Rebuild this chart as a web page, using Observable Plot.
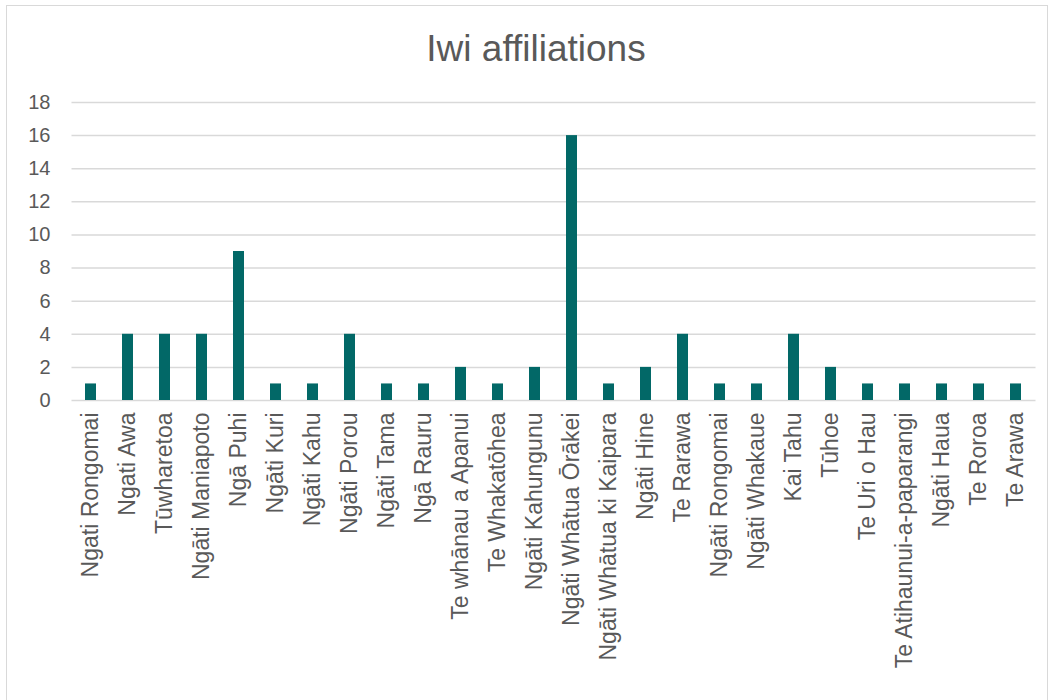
<!DOCTYPE html>
<html><head><meta charset="utf-8">
<script src="https://cdn.jsdelivr.net/npm/d3@7"></script>
<script src="https://cdn.jsdelivr.net/npm/@observablehq/plot@0.6"></script>
<style>
body{margin:0;background:#fff;font-family:"Liberation Sans",Arial,sans-serif;}
#frame{position:absolute;left:6px;top:5px;width:1040px;height:720px;border:1.5px solid #d9d9d9;}
#title{position:absolute;top:30px;left:536px;transform:translateX(-50%);font-size:37px;line-height:1;color:#595959;white-space:nowrap;}
#chart{position:absolute;left:0;top:70px;}
</style></head><body>
<div id="frame"></div>
<div id="title">Iwi affiliations</div>
<div id="chart"></div>
<script>
const categories = [
  "Ngati Rongomai", "Ngati Awa", "Tūwharetoa", "Ngāti Maniapoto", "Ngā Puhi",
  "Ngāti Kuri", "Ngāti Kahu", "Ngāti Porou", "Ngāti Tama", "Ngā Rauru",
  "Te whānau a Apanui", "Te Whakatōhea", "Ngāti Kahungunu", "Ngāti Whātua Ōrākei",
  "Ngāti Whātua ki Kaipara", "Ngāti Hine", "Te Rarawa", "Ngāti Rongomai",
  "Ngāti Whakaue", "Kai Tahu", "Tūhoe", "Te Uri o Hau", "Te Atihaunui-a-paparangi",
  "Ngāti Haua", "Te Roroa", "Te Arawa"
];
const counts = [1, 4, 4, 4, 9, 1, 1, 4, 1, 1, 2, 1, 2, 16, 1, 2, 4, 1, 1, 4, 2, 1, 1, 1, 1, 1];
const yTicks = [0, 2, 4, 6, 8, 10, 12, 14, 16, 18];

const data = categories.map((c, i) => ({iwi: c, count: counts[i]}));

const chart = Plot.plot({
  width: 1052,
  height: 630,
  marginTop: 32,
  marginBottom: 300,
  marginLeft: 71.5,
  marginRight: 16.5,
  style: {fontFamily: '"Liberation Sans", Arial, sans-serif', color: "#595959", background: "transparent"},
  x: {domain: categories, paddingInner: 0.69, paddingOuter: 0.345, label: null},
  y: {domain: [0, 18], label: null},
  marks: [
    Plot.ruleY(yTicks, {stroke: "#d9d9d9", strokeWidth: 1.5}),
    Plot.barY(data, {x: "iwi", y: "count", fill: "#026867"}),
    Plot.axisX({tickSize: 0, tickPadding: 12, tickRotate: -90, fontSize: 23, label: null}),
    Plot.axisY({ticks: yTicks, tickSize: 0, tickPadding: 21.5, fontSize: 20, label: null})
  ]
});
document.getElementById("chart").appendChild(chart);
</script>
</body></html>
